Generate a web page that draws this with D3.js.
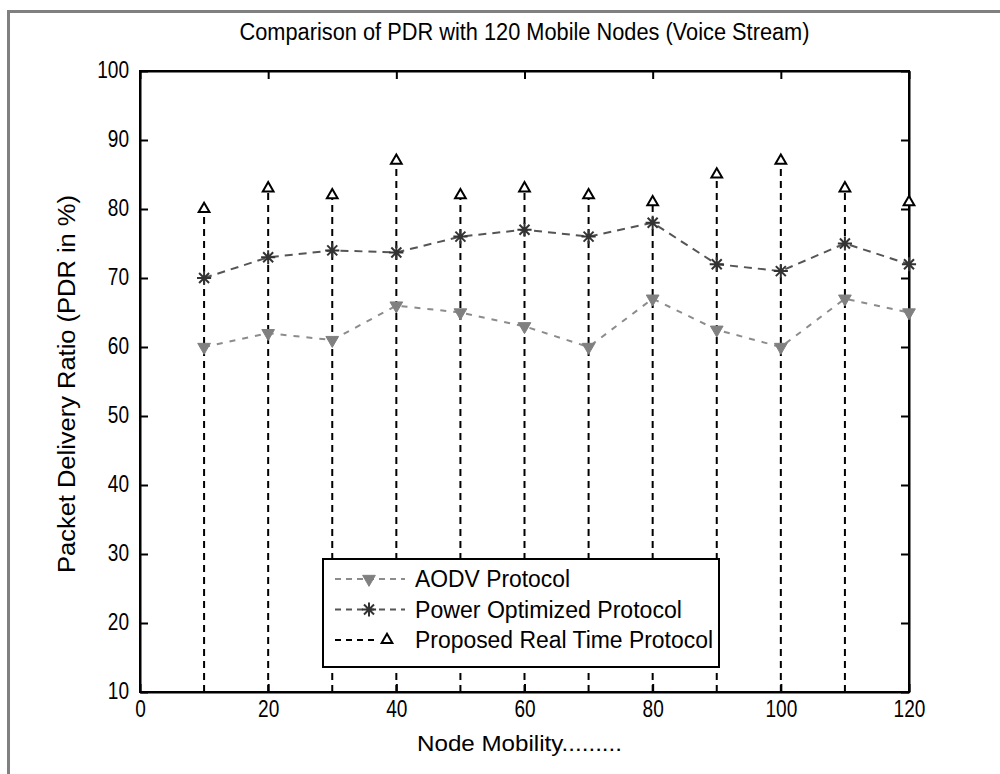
<!DOCTYPE html>
<html lang="en">
<head>
    <meta charset="UTF-8">
    <title>Comparison of PDR with 120 Mobile Nodes</title>
    <script src="https://d3js.org/d3.v7.min.js"></script>
    <style>
        html, body { margin: 0; padding: 0; overflow: hidden; background: #fff; }
        svg text { font-family: "Liberation Sans", Arial, sans-serif; fill: #000; }
    </style>
</head>
<body>
<svg id="chart" width="1000" height="774"></svg>
<script>
    // data
    const nodeMobility = [10, 20, 30, 40, 50, 60, 70, 80, 90, 100, 110, 120];
    const aodv     = [60, 62, 61, 66, 65, 63, 60, 67, 62.5, 60, 67, 65];
    const powerOpt = [70, 73, 74, 73.7, 76, 77, 76, 78, 72, 71, 75, 72];
    const realTime = [80, 83, 82, 87, 82, 83, 82, 81, 85, 87, 83, 81];
    const xTicks = [0, 20, 40, 60, 80, 100, 120];
    const yTicks = [10, 20, 30, 40, 50, 60, 70, 80, 90, 100];
    const seriesNames = ["AODV Protocol", "Power Optimized Protocol", "Proposed Real Time Protocol"];

    const svg = d3.select("#chart");
    const pLeft = 140, pRight = 909, pTop = 71, pBottom = 692;

    const x = d3.scaleLinear().domain([0, 120]).range([pLeft, pRight]);
    const y = d3.scaleLinear().domain([10, 100]).range([pBottom, pTop]);

    // grey window frame (left + top)
    svg.append("path")
        .attr("d", `M8.5,774 V11.5 H1000`)
        .attr("fill", "none")
        .attr("stroke", "#808080")
        .attr("stroke-width", 3);

    // custom 8-arm star marker (matlab '*')
    const star = {
        draw(ctx, size) {
            const r = Math.sqrt(size) / 2;
            const d = r * Math.SQRT1_2;
            ctx.moveTo(-r, 0); ctx.lineTo(r, 0);
            ctx.moveTo(0, -r); ctx.lineTo(0, r);
            ctx.moveTo(-d, -d); ctx.lineTo(d, d);
            ctx.moveTo(-d, d); ctx.lineTo(d, -d);
        }
    };

    // the original text is tall and narrow, squeeze it a bit
    function squeeze(sel, perChar) {
        sel.attr("textLength", function () { return this.textContent.length * perChar; })
           .attr("lengthAdjust", "spacingAndGlyphs");
    }

    // axes (ticks inward, box style)
    const axB = svg.append("g").attr("transform", `translate(0,${pBottom})`)
        .call(d3.axisBottom(x).tickValues(xTicks).tickSizeInner(-8).tickSizeOuter(0).tickPadding(9));
    const axT = svg.append("g").attr("transform", `translate(0,${pTop})`)
        .call(d3.axisTop(x).tickValues(xTicks).tickSizeInner(-8).tickSizeOuter(0).tickFormat(""));
    const axL = svg.append("g").attr("transform", `translate(${pLeft},0)`)
        .call(d3.axisLeft(y).tickValues(yTicks).tickSizeInner(-8).tickSizeOuter(0).tickPadding(11));
    const axR = svg.append("g").attr("transform", `translate(${pRight},0)`)
        .call(d3.axisRight(y).tickValues(yTicks).tickSizeInner(-8).tickSizeOuter(0).tickFormat(""));
    [axB, axT, axL, axR].forEach(a => {
        a.selectAll("path.domain").attr("stroke", "#000").attr("stroke-width", 2);
        a.selectAll(".tick line").attr("stroke", "#000").attr("stroke-width", 2);
        a.selectAll("text").style("font-size", "23px")
            .style("font-family", "'Liberation Sans', Arial, sans-serif")
            .call(squeeze, 10.6);
    });
    axL.selectAll("text").attr("dy", "0.3em");
    svg.append("rect")
        .attr("x", pLeft).attr("y", pTop)
        .attr("width", pRight - pLeft).attr("height", pBottom - pTop)
        .attr("fill", "none").attr("stroke", "#000").attr("stroke-width", 2);

    const plot = svg.append("g");

    // proposed real time: dashed stems from the base to the marker
    plot.selectAll(".stem")
        .data(nodeMobility)
        .enter().append("line")
        .attr("class", "stem")
        .attr("x1", d => x(d)).attr("x2", d => x(d))
        .attr("y1", y(10))
        .attr("y2", (d, i) => y(realTime[i]))
        .attr("stroke", "#000")
        .attr("stroke-width", 2)
        .attr("stroke-dasharray", "7,5");

    const line = d3.line().x((d, i) => x(nodeMobility[i])).y(d => y(d));

    plot.append("path").datum(aodv)
        .attr("fill", "none").attr("stroke", "#8c8c8c")
        .attr("stroke-width", 2).attr("stroke-dasharray", "6,7")
        .attr("d", line);

    plot.append("path").datum(powerOpt)
        .attr("fill", "none").attr("stroke", "#555")
        .attr("stroke-width", 2).attr("stroke-dasharray", "8,6")
        .attr("d", line);

    // markers
    plot.selectAll(".mk-aodv").data(aodv).enter().append("path")
        .attr("transform", (d, i) => `translate(${x(nodeMobility[i])},${y(d)}) rotate(180)`)
        .attr("d", d3.symbol().type(d3.symbolTriangle).size(70))
        .attr("fill", "#808080").attr("stroke", "#808080").attr("stroke-width", 1);

    plot.selectAll(".mk-power").data(powerOpt).enter().append("path")
        .attr("transform", (d, i) => `translate(${x(nodeMobility[i])},${y(d)})`)
        .attr("d", d3.symbol().type(star).size(200))
        .attr("fill", "none").attr("stroke", "#333").attr("stroke-width", 2);

    plot.selectAll(".mk-rt").data(realTime).enter().append("path")
        .attr("transform", (d, i) => `translate(${x(nodeMobility[i])},${y(d)})`)
        .attr("d", d3.symbol().type(d3.symbolTriangle).size(50))
        .attr("fill", "#fff").attr("stroke", "#000").attr("stroke-width", 2);

    // titles
    svg.append("text")
        .attr("x", (pLeft + pRight) / 2).attr("y", 40)
        .attr("text-anchor", "middle")
        .style("font-size", "23px")
        .attr("textLength", 570).attr("lengthAdjust", "spacingAndGlyphs")
        .text("Comparison of PDR with 120 Mobile Nodes (Voice Stream)");

    svg.append("text")
        .attr("x", (pLeft + pRight) / 2 - 5).attr("y", 751)
        .attr("text-anchor", "middle")
        .style("font-size", "22px")
        .attr("textLength", 205).attr("lengthAdjust", "spacingAndGlyphs")
        .text("Node Mobility.........");

    svg.append("text")
        .attr("transform", `translate(75,384) rotate(-90)`)
        .attr("text-anchor", "middle")
        .style("font-size", "23px")
        .attr("textLength", 378).attr("lengthAdjust", "spacingAndGlyphs")
        .text("Packet Delivery Ratio (PDR in %)");

    // legend
    const lg = svg.append("g");
    lg.append("rect")
        .attr("x", 323).attr("y", 559).attr("width", 396).attr("height", 108)
        .attr("fill", "#fff").attr("stroke", "#000").attr("stroke-width", 2);

    const legendStyles = [
        { stroke: "#8c8c8c", dash: "6,5", x2: 405, len: 155 },
        { stroke: "#555", dash: "6,5", x2: 405, len: 267 },
        { stroke: "#000", dash: "6,5", x2: 376, len: 298 }
    ];
    seriesNames.forEach((name, i) => {
        const cy = 579 + i * 30.5;
        const st = legendStyles[i];
        lg.append("line")
            .attr("x1", 335).attr("x2", st.x2).attr("y1", cy).attr("y2", cy)
            .attr("stroke", st.stroke).attr("stroke-width", 2)
            .attr("stroke-dasharray", st.dash);
        if (i === 0) {
            lg.append("path")
                .attr("transform", `translate(369,${cy}) rotate(180)`)
                .attr("d", d3.symbol().type(d3.symbolTriangle).size(70))
                .attr("fill", "#808080").attr("stroke", "#808080");
        } else if (i === 1) {
            lg.append("path")
                .attr("transform", `translate(369,${cy})`)
                .attr("d", d3.symbol().type(star).size(200))
                .attr("fill", "none").attr("stroke", "#333").attr("stroke-width", 2);
        } else {
            lg.append("path")
                .attr("transform", `translate(387,${cy})`)
                .attr("d", d3.symbol().type(d3.symbolTriangle).size(50))
                .attr("fill", "#fff").attr("stroke", "#000").attr("stroke-width", 2);
        }
        lg.append("text")
            .attr("x", 415).attr("y", cy)
            .attr("dy", "0.35em")
            .style("font-size", "23px")
            .attr("textLength", st.len).attr("lengthAdjust", "spacingAndGlyphs")
            .text(name);
    });
</script>
</body>
</html>
